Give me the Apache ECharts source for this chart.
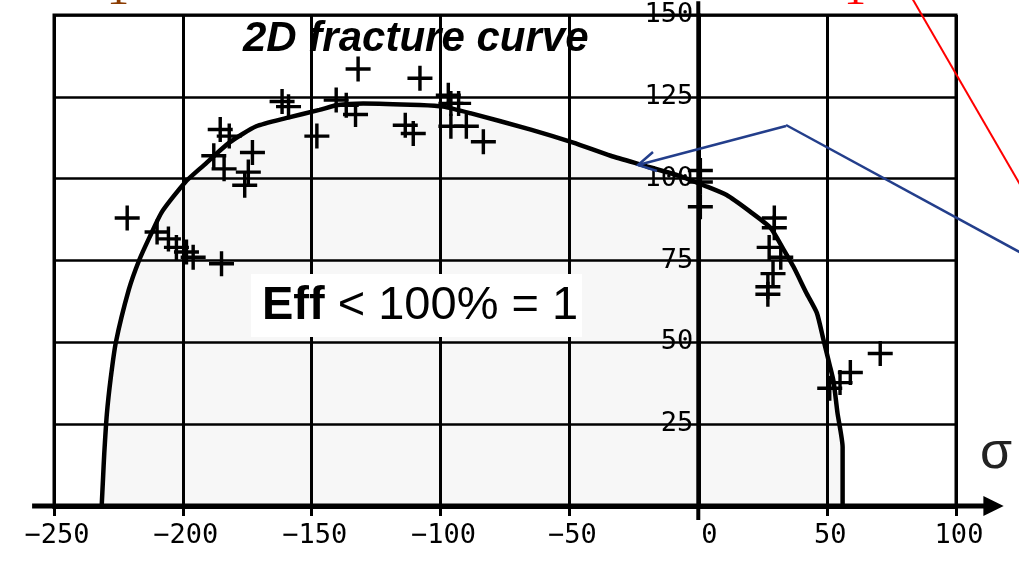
<!DOCTYPE html>
<html>
<head>
<meta charset="utf-8">
<style>
html, body { margin: 0; padding: 0; background: #fff; }
#chart { width: 1019px; height: 569px; }
</style>
<script src="https://cdn.jsdelivr.net/npm/echarts@6/dist/echarts.min.js"></script>
</head>
<body>
<div id="chart"></div>
<script>
// axis ticks
const xTicks = [-250, -200, -150, -100, -50, 0, 50, 100];
const yTicks = [0, 25, 50, 75, 100, 125, 150];

// fracture curve
const curveX = [-231.5, -231, -230.5, -229.5, -228, -226, -221, -217, -213, -208, -199, -192, -182, -171.5, -160, -147, -140, -130, -108, -99, -88.5, -65, -48.5, -34, -21, -6, 2, 11, 20, 28, 33, 37, 42, 46, 48.5, 51, 52.5, 54, 56, 56];
const curveY = [0, 8, 16, 28, 39, 50, 66, 75, 82, 90, 99, 104, 111, 116, 118.5, 121, 122.5, 123, 122.5, 122, 120, 115, 111, 107, 104, 100.5, 98, 95, 90, 85, 78.5, 73, 65, 59, 51, 43, 38, 28.5, 18, 0];

// test points (+ markers)
const pointX = [-221.6, -210, -205.6, -202.5, -198.6, -196, -185, -188, -184, -185.5, -182, -173, -174.6, -176, -161.5, -159, -148, -140.5, -136.6, -133, -132, -108, -113.7, -110.6, -97, -96, -93, -96, -90, -83.4, 0.8, 0.8, 0.8, 29.5, 29.5, 27.5, 32, 29, 27, 27, 70.6, 59, 55, 51];
const pointY = [88, 83.7, 81.6, 79, 77.6, 76, 74, 107, 103, 115, 113, 108, 102, 98, 123.6, 122, 113, 124, 122.4, 119.6, 133.5, 130.7, 116.3, 113.8, 125.5, 123, 123, 116, 116, 111.3, 102.5, 99, 91.4, 88, 85, 79, 76, 71, 67, 64.7, 46.6, 40.8, 37.7, 36];

const plusSymbol = "path://M11,0h3.5v11h11v3.5h-11v11h-3.5v-11h-11v-3.5h11z";

const chartDom = document.getElementById("chart");
const chart = echarts.init(chartDom);

chart.setOption({
    animation: false,
    grid: {
        left: 54, right: 63, top: 15, bottom: 63,
        show: true, borderColor: "#000", borderWidth: 3,
        outerBoundsMode: "none"
    },
    xAxis: {
        type: "value",
        min: xTicks[0],
        max: xTicks[xTicks.length - 1],
        interval: xTicks[1] - xTicks[0],
        axisLine: { onZero: false, lineStyle: { color: "#000", width: 5 } },
        axisTick: { show: true, length: 10, lineStyle: { color: "#000", width: 3 } },
        axisLabel: {
            color: "#000", fontFamily: "DejaVu Sans Mono", fontSize: 27, margin: 16,
            padding: [0, 0, 0, 6],
            formatter: (v) => (v === 0 ? " 0" : String(v).replace("-", "\u2212"))
        },
        splitLine: { show: true, lineStyle: { color: "#000", width: 3 } }
    },
    yAxis: {
        type: "value",
        min: yTicks[0],
        max: yTicks[yTicks.length - 1],
        interval: yTicks[1] - yTicks[0],
        axisLine: { show: true, onZero: false, lineStyle: { color: "#000", width: 4 } },
        axisTick: { show: false },
        axisLabel: {
            showMinLabel: false,
            color: "#000", fontFamily: "DejaVu Sans Mono", fontSize: 27, margin: 5,
            padding: [5, 0, 0, 0]
        },
        splitLine: { show: true, lineStyle: { color: "#000", width: 2.5 } }
    },
    series: [
        {
            type: "line",
            data: curveX.map((x, i) => [x, curveY[i]]),
            showSymbol: false,
            smooth: 0.2,
            lineStyle: { color: "#000", width: 4.5 },
            areaStyle: { color: "#000", opacity: 0.032 },
            z: 3
        },
        {
            type: "scatter",
            data: pointX.map((x, i) => [x, pointY[i]]),
            symbol: plusSymbol,
            symbolSize: 25,
            itemStyle: { color: "#000", opacity: 1 },
            z: 4
        }
    ]
});

// move the y axis onto x = 0 and add decorations through the chart's own scales
const p = (x, y) => chart.convertToPixel({ gridIndex: 0 }, [x, y]);
chart.setOption({ yAxis: { offset: p(xTicks[0], 0)[0] - p(0, 0)[0] } });

const xa = p(-258.5, 0), xb = p(111, 0), tip = p(118.5, 0);
const ya = p(0, 154.2), yb = p(0, -4.3);

chart.setOption({
    graphic: [
        { type: "line", shape: { x1: xa[0], y1: xa[1], x2: xb[0], y2: xb[1] }, style: { stroke: "#000", lineWidth: 5 }, z: 10 },
        { type: "polygon", shape: { points: [[tip[0], tip[1]], [xb[0] - 1, tip[1] - 10], [xb[0] - 1, tip[1] + 10]] }, style: { fill: "#000" }, z: 10 },
        { type: "line", shape: { x1: ya[0], y1: ya[1], x2: yb[0], y2: yb[1] }, style: { stroke: "#000", lineWidth: 4 }, z: 10 },
        {
            type: "text", x: 243, y: 39, z: 20,
            style: {
                text: "2D fracture curve", fill: "#000",
                font: "italic bold 42px 'Liberation Sans', Arial, sans-serif",
                align: "left", verticalAlign: "middle"
            }
        },
        { type: "rect", shape: { x: 251, y: 274, width: 331, height: 63 }, style: { fill: "#fff" }, z: 20 },
        {
            type: "text", x: 262, y: 306, z: 21,
            style: {
                text: "{b|Eff}{n| < 100% = 1}",
                verticalAlign: "middle", align: "left",
                rich: {
                    b: { fontFamily: "Liberation Sans", fontWeight: "bold", fontSize: 47, fill: "#000" },
                    n: { fontFamily: "Liberation Sans", fontSize: 47, fill: "#000" }
                }
            }
        },
        // blue arrow and line
        { type: "polyline", shape: { points: [[786, 126], [638, 165]] }, style: { stroke: "#233e8b", lineWidth: 2.5 }, z: 20 },
        { type: "polyline", shape: { points: [[653, 152], [638, 165], [657, 171]] }, style: { stroke: "#233e8b", lineWidth: 2.5, fill: null }, z: 20 },
        { type: "polyline", shape: { points: [[786, 125], [1025, 255]] }, style: { stroke: "#233e8b", lineWidth: 2.5 }, z: 20 },
        // red line
        { type: "polyline", shape: { points: [[912, -2], [1022, 188]] }, style: { stroke: "#ff0000", lineWidth: 2 }, z: 20 },
        // cut-off labels at the top edge
        { type: "text", x: 118, y: 14, z: 20, style: { text: "1", font: "44px 'Liberation Serif', serif", fill: "#8a3b00", align: "center", verticalAlign: "bottom" } },
        { type: "text", x: 855, y: 14, z: 20, style: { text: "1", font: "44px 'Liberation Serif', serif", fill: "#ff0000", align: "center", verticalAlign: "bottom" } },
        // sigma at the axis end
        { type: "text", x: 980, y: 454, z: 20, style: { text: "\u03c3", font: "52px 'Liberation Sans', sans-serif", fill: "#222", align: "left", verticalAlign: "middle" } }
    ]
});
</script>
</body>
</html>
